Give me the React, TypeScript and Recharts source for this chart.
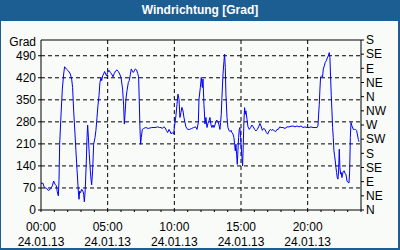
import { LineChart, Line, XAxis, YAxis, CartesianGrid, ReferenceLine } from 'recharts';

// Windrichtung 24.01.13, [Stunde, Grad]
const night: [number, number][] = [
  [0, 85], [0.15, 85], [0.25, 71], [0.42, 69], [0.55, 62], [0.7, 66], [0.85, 77], [0.95, 92],
  [1.05, 82], [1.15, 77], [1.22, 58], [1.3, 45], [1.35, 94], [1.4, 209], [1.5, 302], [1.6, 384],
  [1.7, 432], [1.77, 455], [1.9, 448], [2.05, 442], [2.2, 432], [2.3, 416], [2.37, 389], [2.45, 315],
  [2.55, 241], [2.62, 188], [2.7, 129], [2.8, 60], [2.85, 34], [2.9, 60], [2.97, 55], [3.05, 66],
  [3.15, 60], [3.2, 50], [3.25, 26], [3.32, 66], [3.4, 156], [3.45, 230], [3.5, 270], [3.55, 235],
  [3.62, 177], [3.7, 124], [3.75, 98], [3.8, 80], [3.87, 124], [3.95, 209], [4.05, 230], [4.12, 253],
  [4.2, 294], [4.27, 331], [4.35, 363], [4.42, 405], [4.5, 421], [4.55, 411], [4.62, 426], [4.7, 432],
  [4.77, 440], [4.85, 432], [4.92, 426], [5.0, 437], [5.1, 444], [5.2, 437], [5.3, 432], [5.4, 423],
  [5.5, 434], [5.6, 442], [5.7, 445], [5.8, 440], [5.9, 432],
];

const morning: [number, number][] = [
  [6.0, 421], [6.12, 384], [6.2, 331], [6.25, 273], [6.3, 304], [6.37, 352], [6.45, 379], [6.55, 405],
  [6.62, 411], [6.7, 430], [6.77, 448], [6.85, 442], [6.92, 437], [7.0, 442], [7.07, 448], [7.17, 445],
  [7.25, 434], [7.32, 423], [7.37, 347], [7.42, 264], [7.47, 209], [7.52, 230], [7.6, 256], [7.7, 259],
  [7.85, 262], [8.05, 259], [8.3, 262], [8.55, 262], [8.75, 264], [8.9, 262], [9.0, 262], [9.1, 259],
  [9.2, 264], [9.3, 262], [9.4, 253], [9.5, 246], [9.6, 256], [9.67, 251], [9.75, 242], [9.85, 246],
  [9.95, 241], [10.0, 262], [10.05, 278], [10.12, 299], [10.2, 336], [10.27, 368], [10.35, 352],
  [10.42, 294], [10.5, 310], [10.57, 326], [10.65, 315], [10.72, 294], [10.8, 278], [10.87, 264],
  [11.0, 256], [11.15, 256], [11.3, 259], [11.45, 262], [11.6, 264], [11.7, 256], [11.8, 278],
  [11.85, 352], [11.95, 389],
];

const afternoon: [number, number][] = [
  [12.02, 421], [12.1, 389], [12.15, 416], [12.22, 336], [12.3, 273], [12.37, 294], [12.45, 262],
  [12.52, 275], [12.6, 283], [12.67, 294], [12.75, 270], [12.82, 262], [12.9, 270], [12.97, 262],
  [13.05, 270], [13.12, 283], [13.2, 285], [13.27, 281], [13.35, 270], [13.42, 256], [13.47, 278],
  [13.52, 304], [13.57, 357], [13.65, 432], [13.72, 472], [13.77, 495], [13.82, 453], [13.87, 368],
  [13.95, 294], [14.02, 262], [14.1, 253], [14.17, 249], [14.25, 253], [14.32, 246], [14.4, 241],
  [14.47, 230], [14.52, 209], [14.57, 188], [14.62, 209], [14.67, 177], [14.72, 145], [14.77, 188],
  [14.82, 230], [14.87, 256], [14.92, 262], [14.97, 230], [15.02, 198], [15.07, 166], [15.12, 140],
  [15.17, 209], [15.22, 283], [15.27, 325], [15.32, 304], [15.37, 315], [15.45, 288], [15.52, 265],
  [15.62, 256], [15.72, 262], [15.82, 270], [15.92, 264], [16.02, 256], [16.12, 251], [16.22, 256],
  [16.32, 264], [16.42, 275], [16.5, 267], [16.6, 253], [16.7, 259], [16.8, 256], [16.9, 246],
  [17.0, 241], [17.1, 251], [17.2, 256], [17.3, 253], [17.4, 256], [17.5, 251], [17.6, 249],
  [17.7, 256], [17.8, 256], [17.9, 264],
];

const evening: [number, number][] = [
  [18.0, 262], [18.15, 262], [18.3, 259], [18.45, 264], [18.6, 264], [18.75, 266], [18.9, 267],
  [19.05, 264], [19.2, 267], [19.35, 264], [19.5, 267], [19.65, 262], [19.8, 264], [19.95, 262],
  [20.1, 262], [20.25, 264], [20.4, 262], [20.55, 262], [20.7, 262], [20.77, 267], [20.82, 302],
  [20.87, 336], [20.92, 384], [20.97, 423], [21.05, 426], [21.12, 423], [21.17, 448], [21.25, 458],
  [21.32, 469], [21.4, 474], [21.47, 483], [21.55, 490], [21.62, 500], [21.67, 484], [21.72, 421],
  [21.77, 363], [21.82, 315], [21.87, 262], [21.92, 230], [21.97, 188], [22.02, 172], [22.07, 156],
  [22.12, 135], [22.17, 119], [22.22, 103], [22.27, 98], [22.32, 124], [22.37, 193], [22.42, 135],
  [22.47, 114], [22.52, 119], [22.57, 103], [22.62, 114], [22.67, 123], [22.75, 124], [22.8, 116],
  [22.87, 114], [22.95, 92], [23.02, 88], [23.1, 86], [23.15, 124], [23.2, 230], [23.25, 278],
  [23.3, 270], [23.35, 264], [23.42, 256], [23.5, 256], [23.6, 256], [23.67, 253], [23.75, 235],
  [23.8, 224], [23.85, 217],
];

const gradTicks = [0, 70, 140, 210, 280, 350, 420, 490];
const compassTicks = [0, 45, 90, 135, 180, 225, 270, 315, 360, 405, 450, 495, 540];
const compassNames = ['N', 'NE', 'E', 'SE', 'S', 'SW', 'W', 'NW', 'N', 'NE', 'E', 'SE', 'S'];
const hourTicks = Array.from({ length: 25 }, (_, i) => i);
const timeLabels: Record<number, string> = { 0: '00:00', 5: '05:00', 10: '10:00', 15: '15:00', 20: '20:00' };
const dateLabel = '24.01.13';

const data = [...night, ...morning, ...afternoon, ...evening].map(([h, v]) => ({ h, v }));

const FONT = '"Liberation Sans", Arial, sans-serif';
const BLUE = '#1d5e92';

function TimeTick({ x, y, payload }: any) {
  const label = timeLabels[payload.value];
  if (!label) return null;
  return (
    <g>
      <text x={x} y={y + 17} textAnchor="middle" fontSize={12} fontFamily={FONT} fill="#000">
        {label}
      </text>
      <text x={x} y={y + 32} textAnchor="middle" fontSize={12} fontFamily={FONT} fill="#000">
        {dateLabel}
      </text>
    </g>
  );
}

export default function App() {
  return (
    <div style={{ position: 'fixed', left: 0, top: 0, width: 400, height: 250, background: BLUE }}>
      <div
        style={{
          position: 'absolute', left: 0, top: 0, width: 400, height: 21, lineHeight: '21px',
          textAlign: 'center', color: '#fff', fontFamily: FONT, fontWeight: 'bold', fontSize: 12,
        }}
      >
        Windrichtung [Grad]
      </div>
      <div style={{ position: 'absolute', left: 1, top: 21, width: 397, height: 227, background: '#f8fbf8' }} />
      <div
        style={{
          position: 'absolute', left: 0, top: 36, width: 36, textAlign: 'right',
          fontFamily: FONT, fontSize: 12, color: '#000', lineHeight: '13px',
        }}
      >
        Grad
      </div>
      <div style={{ position: 'absolute', left: 0, top: 0 }}>
        <LineChart width={400} height={250} data={data} margin={{ top: 40, right: 0, bottom: 0, left: 0 }}>
          <CartesianGrid
            yAxisId="left"
            stroke="#000"
            strokeDasharray="4 3"
            horizontalValues={[70, 140, 210, 280, 350, 420, 490]}
            verticalValues={[5, 10, 15, 20]}
          />
          <XAxis
            dataKey="h"
            type="number"
            domain={[0, 24]}
            ticks={hourTicks}
            interval={0}
            height={40}
            stroke="#000"
            tickSize={2}
            tick={<TimeTick />}
          />
          <YAxis
            yAxisId="left"
            type="number"
            domain={[0, 540]}
            ticks={gradTicks}
            interval={0}
            width={41}
            stroke="#000"
            tickSize={3}
            tick={{ fill: '#000', fontSize: 12, fontFamily: FONT }}
          />
          <YAxis
            yAxisId="right"
            orientation="right"
            type="number"
            domain={[0, 540]}
            ticks={compassTicks}
            interval={0}
            width={39}
            stroke="#000"
            tickSize={3}
            tickFormatter={(v: number) => compassNames[compassTicks.indexOf(v)]}
            tick={{ fill: '#000', fontSize: 12, fontFamily: FONT }}
          />
          <ReferenceLine yAxisId="left" y={540} stroke="#000" />
          <Line
            yAxisId="left"
            dataKey="v"
            type="linear"
            stroke="#0000ff"
            strokeWidth={1}
            dot={false}
            isAnimationActive={false}
          />
          <Line
            yAxisId="right"
            dataKey="v"
            stroke="none"
            dot={false}
            activeDot={false}
            legendType="none"
            isAnimationActive={false}
          />
        </LineChart>
      </div>
    </div>
  );
}
